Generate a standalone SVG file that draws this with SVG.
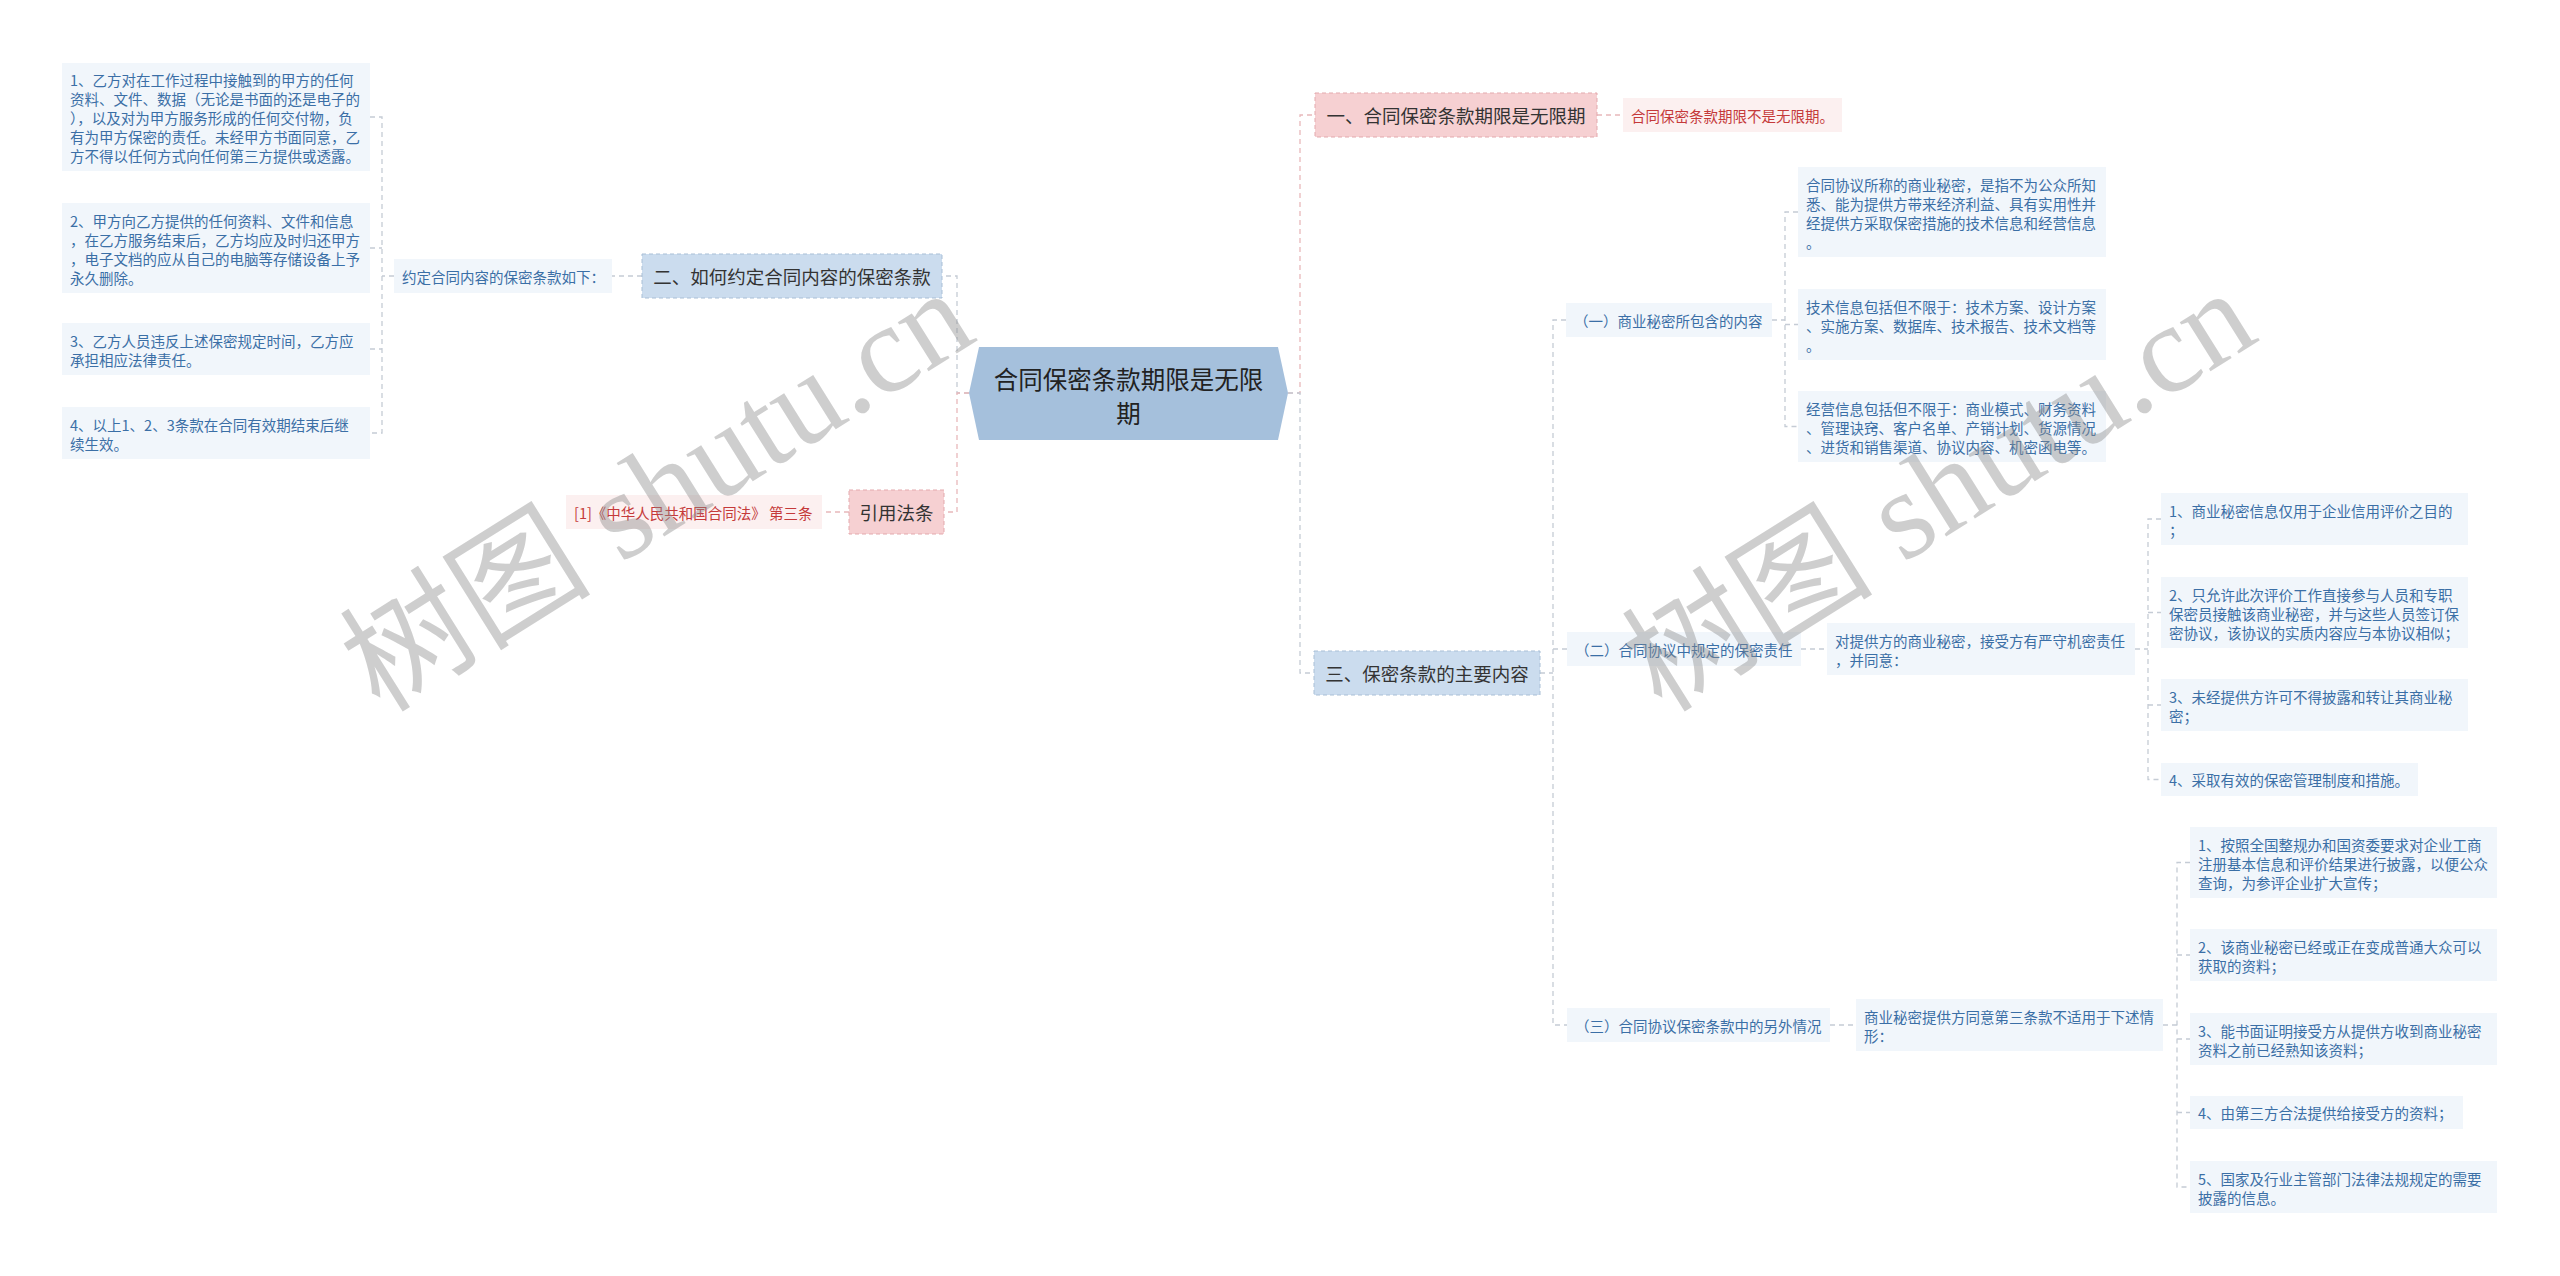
<svg xmlns="http://www.w3.org/2000/svg" width="2560" height="1276" viewBox="0 0 2560 1276">
<style>
text{font-family:"Noto Sans CJK SC","Microsoft YaHei",sans-serif;dominant-baseline:central}
.s{font-size:14.5px;fill:#3b6fa6}
.r{font-size:14.5px;fill:#c53a3a}
.b{font-size:18.5px;fill:#333;text-anchor:middle}
.sb{fill:#f1f6fb}
.rb{fill:#fcf0f0}
.bb{fill:#cbdcee;stroke:#a9bfd6;stroke-width:1;stroke-dasharray:4 3}
.pb{fill:#f6d0d2;stroke:#e3a9ad;stroke-width:1;stroke-dasharray:4 3}
.c{fill:none;stroke:#c5ccd5;stroke-width:1.3;stroke-dasharray:5 4}
.cp{fill:none;stroke:#e8b8bb;stroke-width:1.3;stroke-dasharray:5 4}
.wm{font-family:"Liberation Serif","Noto Sans CJK SC",serif;font-size:126px;fill:#8a8a8a;fill-opacity:0.42;dominant-baseline:auto}
</style>
<rect width="2560" height="1276" fill="#fff"/>
<g id="connectors">
<path class="c" d="M969,393 H957 V276 H942"/>
<path class="cp" d="M969,393 H957 V512 H944"/>
<path class="c" d="M642,276 H612"/>
<path class="c" d="M394,276 H382 M370,117 H382 V433 H370 M370,248 H382 M370,349 H382"/>
<path class="cp" d="M849,512 H822"/>
<path class="cp" d="M1288,393 H1300 V115 H1315"/>
<path class="c" d="M1288,393 H1300 V673 H1314"/>
<path class="cp" d="M1597,115 H1623"/>
<path class="c" d="M1540,673 H1553 M1566,320 H1553 V1025 H1567 M1553,649 H1567"/>
<path class="c" d="M1772,320 H1785 M1798,212 H1785 V426.5 H1798 M1785,324.5 H1798"/>
<path class="c" d="M1801,649 H1827"/>
<path class="c" d="M2135,649 H2148 M2161,519 H2148 V779.5 H2161 M2148,612.5 H2161 M2148,705 H2161"/>
<path class="c" d="M1830,1025 H1856"/>
<path class="c" d="M2163,1025 H2177 M2190,862.5 H2177 V1187 H2190 M2177,955 H2190 M2177,1039 H2190 M2177,1112.5 H2190"/>
</g>
<g id="center">
<polygon points="969,393 979,347 1278,347 1288,393 1278,440 979,440" fill="#a5c0dc"/>
<text x="1128.5" y="378" style="font-size:24.5px;fill:#222;text-anchor:middle">合同保密条款期限是无限</text>
<text x="1128.5" y="412" style="font-size:24.5px;fill:#222;text-anchor:middle">期</text>
</g>
<g id="n-er">
<rect class="bb" x="642" y="254" width="300" height="44"/>
<text class="b" x="792" y="276">二、如何约定合同内容的保密条款</text>
</g>
<g id="n-label">
<rect class="sb" x="394" y="259" width="218" height="34"/>
<text class="s" x="402" y="276">约定合同内容的保密条款如下：</text>
</g>
<g id="n-l1">
<rect class="sb" x="62" y="63" width="308" height="108"/>
<text class="s"><tspan x="70" y="79">1、乙方对在工作过程中接触到的甲方的任何</tspan><tspan x="70" y="98">资料、文件、数据（无论是书面的还是电子的</tspan><tspan x="70" y="117">），以及对为甲方服务形成的任何交付物，负</tspan><tspan x="70" y="136">有为甲方保密的责任。未经甲方书面同意，乙</tspan><tspan x="70" y="155">方不得以任何方式向任何第三方提供或透露。</tspan></text>
</g>
<g id="n-l2">
<rect class="sb" x="62" y="203" width="308" height="90"/>
<text class="s"><tspan x="70" y="219.5">2、甲方向乙方提供的任何资料、文件和信息</tspan><tspan x="70" y="238.5">，在乙方服务结束后，乙方均应及时归还甲方</tspan><tspan x="70" y="257.5">，电子文档的应从自己的电脑等存储设备上予</tspan><tspan x="70" y="276.5">永久删除。</tspan></text>
</g>
<g id="n-l3">
<rect class="sb" x="62" y="323" width="308" height="52"/>
<text class="s"><tspan x="70" y="339.5">3、乙方人员违反上述保密规定时间，乙方应</tspan><tspan x="70" y="358.5">承担相应法律责任。</tspan></text>
</g>
<g id="n-l4">
<rect class="sb" x="62" y="407" width="308" height="52"/>
<text class="s"><tspan x="70" y="423.5">4、以上1、2、3条款在合同有效期结束后继</tspan><tspan x="70" y="442.5">续生效。</tspan></text>
</g>
<g id="n-cite">
<rect class="pb" x="849" y="490" width="95" height="44"/>
<text class="b" x="896.5" y="512">引用法条</text>
</g>
<g id="n-cite-ref">
<rect class="rb" x="566" y="495" width="256" height="34"/>
<text class="r" x="574" y="512">[1]《中华人民共和国合同法》 第三条</text>
</g>
<g id="n-yi">
<rect class="pb" x="1315" y="93" width="282" height="44"/>
<text class="b" x="1456" y="115">一、合同保密条款期限是无限期</text>
</g>
<g id="n-yi-a">
<rect class="rb" x="1623" y="98" width="219" height="34"/>
<text class="r" x="1631" y="115">合同保密条款期限不是无限期。</text>
</g>
<g id="n-san">
<rect class="bb" x="1314" y="651" width="226" height="44"/>
<text class="b" x="1427" y="673">三、保密条款的主要内容</text>
</g>
<g id="n-s1">
<rect class="sb" x="1566" y="303" width="206" height="34"/>
<text class="s" x="1574" y="320">（一）商业秘密所包含的内容</text>
</g>
<g id="n-s1a">
<rect class="sb" x="1798" y="167" width="308" height="90"/>
<text class="s"><tspan x="1806" y="183.5">合同协议所称的商业秘密，是指不为公众所知</tspan><tspan x="1806" y="202.5">悉、能为提供方带来经济利益、具有实用性并</tspan><tspan x="1806" y="221.5">经提供方采取保密措施的技术信息和经营信息</tspan><tspan x="1806" y="240.5">。</tspan></text>
</g>
<g id="n-s1b">
<rect class="sb" x="1798" y="289" width="308" height="71"/>
<text class="s"><tspan x="1806" y="305.5">技术信息包括但不限于：技术方案、设计方案</tspan><tspan x="1806" y="324.5">、实施方案、数据库、技术报告、技术文档等</tspan><tspan x="1806" y="343.5">。</tspan></text>
</g>
<g id="n-s1c">
<rect class="sb" x="1798" y="391" width="308" height="71"/>
<text class="s"><tspan x="1806" y="407.5">经营信息包括但不限于：商业模式、财务资料</tspan><tspan x="1806" y="426.5">、管理诀窍、客户名单、产销计划、货源情况</tspan><tspan x="1806" y="445.5">、进货和销售渠道、协议内容、机密函电等。</tspan></text>
</g>
<g id="n-s2">
<rect class="sb" x="1567" y="632" width="234" height="34"/>
<text class="s" x="1575" y="649">（二）合同协议中规定的保密责任</text>
</g>
<g id="n-s2a">
<rect class="sb" x="1827" y="623" width="308" height="52"/>
<text class="s"><tspan x="1835" y="639.5">对提供方的商业秘密，接受方有严守机密责任</tspan><tspan x="1835" y="658.5">，并同意：</tspan></text>
</g>
<g id="n-e1">
<rect class="sb" x="2161" y="493" width="307" height="52"/>
<text class="s"><tspan x="2169" y="509.5">1、商业秘密信息仅用于企业信用评价之目的</tspan><tspan x="2169" y="528.5">；</tspan></text>
</g>
<g id="n-e2">
<rect class="sb" x="2161" y="577" width="307" height="71"/>
<text class="s"><tspan x="2169" y="593.5">2、只允许此次评价工作直接参与人员和专职</tspan><tspan x="2169" y="612.5">保密员接触该商业秘密，并与这些人员签订保</tspan><tspan x="2169" y="631.5">密协议，该协议的实质内容应与本协议相似；</tspan></text>
</g>
<g id="n-e3">
<rect class="sb" x="2161" y="679" width="307" height="52"/>
<text class="s"><tspan x="2169" y="695.5">3、未经提供方许可不得披露和转让其商业秘</tspan><tspan x="2169" y="714.5">密；</tspan></text>
</g>
<g id="n-e4">
<rect class="sb" x="2161" y="763" width="257" height="33"/>
<text class="s" x="2169" y="779.5">4、采取有效的保密管理制度和措施。</text>
</g>
<g id="n-s3">
<rect class="sb" x="1567" y="1008" width="263" height="34"/>
<text class="s" x="1575" y="1025">（三）合同协议保密条款中的另外情况</text>
</g>
<g id="n-s3a">
<rect class="sb" x="1856" y="999" width="307" height="52"/>
<text class="s"><tspan x="1864" y="1015.5">商业秘密提供方同意第三条款不适用于下述情</tspan><tspan x="1864" y="1034.5">形：</tspan></text>
</g>
<g id="n-f1">
<rect class="sb" x="2190" y="827" width="307" height="71"/>
<text class="s"><tspan x="2198" y="843.5">1、按照全国整规办和国资委要求对企业工商</tspan><tspan x="2198" y="862.5">注册基本信息和评价结果进行披露，以便公众</tspan><tspan x="2198" y="881.5">查询，为参评企业扩大宣传；</tspan></text>
</g>
<g id="n-f2">
<rect class="sb" x="2190" y="929" width="307" height="52"/>
<text class="s"><tspan x="2198" y="945.5">2、该商业秘密已经或正在变成普通大众可以</tspan><tspan x="2198" y="964.5">获取的资料；</tspan></text>
</g>
<g id="n-f3">
<rect class="sb" x="2190" y="1013" width="307" height="52"/>
<text class="s"><tspan x="2198" y="1029.5">3、能书面证明接受方从提供方收到商业秘密</tspan><tspan x="2198" y="1048.5">资料之前已经熟知该资料；</tspan></text>
</g>
<g id="n-f4">
<rect class="sb" x="2190" y="1096" width="273" height="33"/>
<text class="s" x="2198" y="1112.5">4、由第三方合法提供给接受方的资料；</text>
</g>
<g id="n-f5">
<rect class="sb" x="2190" y="1161" width="307" height="52"/>
<text class="s"><tspan x="2198" y="1177.5">5、国家及行业主管部门法律法规规定的需要</tspan><tspan x="2198" y="1196.5">披露的信息。</tspan></text>
</g>
<g id="watermark">
<text class="wm" transform="translate(380,714) rotate(-32)">树图 shutu.cn</text>
<text class="wm" transform="translate(1662,714) rotate(-32)">树图 shutu.cn</text>
</g>
</svg>
